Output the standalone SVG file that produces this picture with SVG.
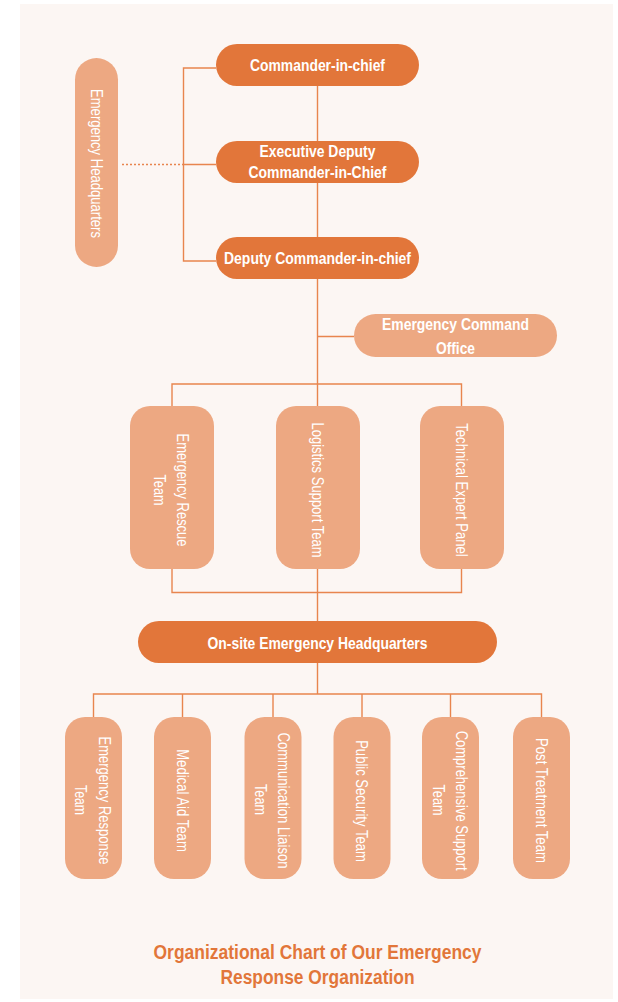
<svg xmlns="http://www.w3.org/2000/svg" width="618" height="1002" viewBox="0 0 618 1002">
<style>
.dk{fill:#e2763a}
.lt{fill:#eda882}
.tb{font-family:"Liberation Sans",Arial,sans-serif;font-weight:bold;font-size:17px;fill:#ffffff;text-anchor:middle}
.tr{font-family:"Liberation Sans",Arial,sans-serif;font-size:17px;fill:#ffffff;text-anchor:middle}
.ln{fill:none;stroke:#e8854e;stroke-width:1.4}
.title{font-family:"Liberation Sans",Arial,sans-serif;font-weight:bold;font-size:19.5px;fill:#e2763a;text-anchor:middle}
</style>
<rect x="0" y="0" width="618" height="1002" fill="#ffffff"/>
<rect x="20" y="4" width="593" height="995" fill="#fcf6f3"/>
<g id="connectors">
<path class="ln" d="M317.5,86 V694"/>
<path class="ln" d="M216,68 H183.5 V261 H216 M183.5,164.5 H216"/>
<path class="ln" d="M122,164.5 H183.5" stroke-dasharray="2 2"/>
<path class="ln" d="M317.5,336.5 H354"/>
<path class="ln" d="M172,406 V384 H461.5 V406"/>
<path class="ln" d="M172,569 V592.5 H461.5 V569"/>
<path class="ln" d="M93.5,717 V694 H541.5 V717 M182.5,694 V717 M273,694 V717 M362,694 V717 M450.5,694 V717"/>
</g>
<g id="commander">
<rect class="dk" x="216" y="44" width="203" height="42" rx="21"/>
<text class="tb" x="317.5" y="70.7" textLength="135" lengthAdjust="spacingAndGlyphs">Commander-in-chief</text>
</g>
<g id="exec-deputy">
<rect class="dk" x="216" y="141" width="203" height="42" rx="21"/>
<text class="tb" x="317.5" y="156.7" textLength="116" lengthAdjust="spacingAndGlyphs">Executive Deputy</text>
<text class="tb" x="317.5" y="178.3" textLength="138" lengthAdjust="spacingAndGlyphs">Commander-in-Chief</text>
</g>
<g id="deputy">
<rect class="dk" x="216" y="237" width="203" height="42" rx="21"/>
<text class="tb" x="317.5" y="264" textLength="187" lengthAdjust="spacingAndGlyphs">Deputy Commander-in-chief</text>
</g>
<g id="emergency-hq">
<rect class="lt" x="75" y="58" width="43" height="209" rx="21.5"/>
<text class="tr" transform="translate(90.5,163.5) rotate(90)" textLength="149" lengthAdjust="spacingAndGlyphs">Emergency Headquarters</text>
</g>
<g id="command-office">
<rect class="lt" x="354" y="314" width="203" height="43" rx="21.5"/>
<text class="tb" x="455.5" y="330" textLength="147" lengthAdjust="spacingAndGlyphs">Emergency Command</text>
<text class="tb" x="455.5" y="354" textLength="39" lengthAdjust="spacingAndGlyphs">Office</text>
</g>
<g id="rescue-team">
<rect class="lt" x="130" y="406" width="84" height="163" rx="20"/>
<text class="tr" transform="translate(177,490) rotate(90)" textLength="113" lengthAdjust="spacingAndGlyphs">Emergency Rescue</text>
<text class="tr" transform="translate(154,490) rotate(90)" textLength="31" lengthAdjust="spacingAndGlyphs">Team</text>
</g>
<g id="logistics-team">
<rect class="lt" x="276" y="406" width="84" height="163" rx="20"/>
<text class="tr" transform="translate(312,490) rotate(90)" textLength="135" lengthAdjust="spacingAndGlyphs">Logistics Support Team</text>
</g>
<g id="technical-panel">
<rect class="lt" x="420" y="406" width="84" height="163" rx="20"/>
<text class="tr" transform="translate(455.5,490) rotate(90)" textLength="133.5" lengthAdjust="spacingAndGlyphs">Technical Expert Panel</text>
</g>
<g id="onsite-hq">
<rect class="dk" x="138" y="621" width="359" height="42" rx="21"/>
<text class="tb" x="317.5" y="649.3" textLength="220" lengthAdjust="spacingAndGlyphs">On-site Emergency Headquarters</text>
</g>
<g id="response-team">
<rect class="lt" x="65" y="717" width="57" height="162" rx="20"/>
<text class="tr" transform="translate(98.5,800.5) rotate(90)" textLength="128" lengthAdjust="spacingAndGlyphs">Emergency Response</text>
<text class="tr" transform="translate(75,800) rotate(90)" textLength="30" lengthAdjust="spacingAndGlyphs">Team</text>
</g>
<g id="medical-team">
<rect class="lt" x="154" y="717" width="57" height="162" rx="20"/>
<text class="tr" transform="translate(176.5,800.5) rotate(90)" textLength="102.7" lengthAdjust="spacingAndGlyphs">Medical Aid Team</text>
</g>
<g id="communication-team">
<rect class="lt" x="244.5" y="717" width="57" height="162" rx="20"/>
<text class="tr" transform="translate(278,800.5) rotate(90)" textLength="136" lengthAdjust="spacingAndGlyphs">Communication Liaison</text>
<text class="tr" transform="translate(255,799.5) rotate(90)" textLength="31" lengthAdjust="spacingAndGlyphs">Team</text>
</g>
<g id="security-team">
<rect class="lt" x="333.5" y="717" width="57" height="162" rx="20"/>
<text class="tr" transform="translate(356,801) rotate(90)" textLength="121.7" lengthAdjust="spacingAndGlyphs">Public Security Team</text>
</g>
<g id="comprehensive-team">
<rect class="lt" x="422" y="717" width="57" height="162" rx="20"/>
<text class="tr" transform="translate(455.5,800.7) rotate(90)" textLength="140" lengthAdjust="spacingAndGlyphs">Comprehensive Support</text>
<text class="tr" transform="translate(432.5,800) rotate(90)" textLength="31" lengthAdjust="spacingAndGlyphs">Team</text>
</g>
<g id="post-treatment-team">
<rect class="lt" x="513" y="717" width="57" height="162" rx="20"/>
<text class="tr" transform="translate(535.5,800.5) rotate(90)" textLength="125" lengthAdjust="spacingAndGlyphs">Post Treatment Team</text>
</g>
<g id="title">
<text class="title" x="317.5" y="959.3" textLength="328" lengthAdjust="spacingAndGlyphs">Organizational Chart of Our Emergency</text>
<text class="title" x="317.5" y="984.3" textLength="194" lengthAdjust="spacingAndGlyphs">Response Organization</text>
</g>
</svg>
